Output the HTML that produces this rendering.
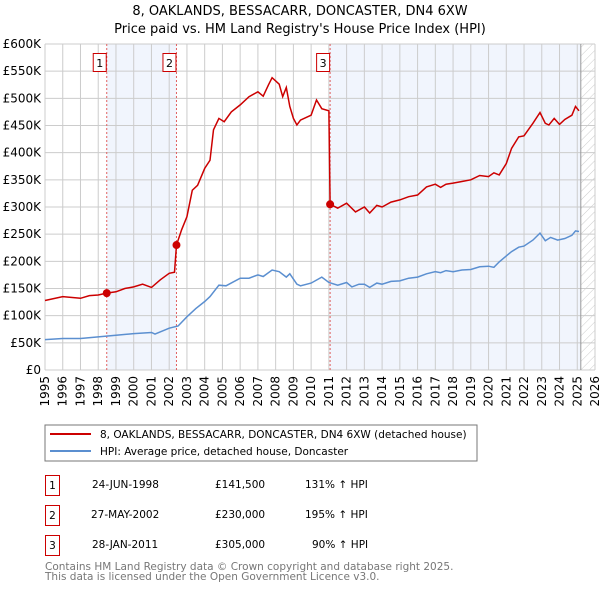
<!DOCTYPE html>
<html><head><meta charset="utf-8"><style>
body{margin:0;background:#fff;font-family:"DejaVu Sans","Liberation Sans",sans-serif;}
svg text{font-family:"DejaVu Sans","Liberation Sans",sans-serif;}
</style></head><body>
<svg id="chart" width="600" height="590" xmlns="http://www.w3.org/2000/svg">
<defs><pattern id="hatch" width="6" height="6" patternUnits="userSpaceOnUse" patternTransform="rotate(45)"><line x1="0" y1="0" x2="0" y2="6" stroke="#ccc" stroke-width="1"/></pattern></defs>
<text x="300" y="15" text-anchor="middle" font-size="13">8, OAKLANDS, BESSACARR, DONCASTER, DN4 6XW</text>
<text x="300" y="33" text-anchor="middle" font-size="13">Price paid vs. HM Land Registry's House Price Index (HPI)</text>
<g id="plot"></g>
<rect x="45" y="425" width="432" height="36" fill="#fff" stroke="#777"/>
<line x1="50" y1="434" x2="91" y2="434" stroke="#cc0000" stroke-width="2"/>
<text x="100" y="438" font-size="10.5">8, OAKLANDS, BESSACARR, DONCASTER, DN4 6XW (detached house)</text>
<line x1="50" y1="451" x2="91" y2="451" stroke="#5b8fd0" stroke-width="2"/>
<text x="100" y="455" font-size="10.5">HPI: Average price, detached house, Doncaster</text>
<g font-size="10.5">
<rect x="45.5" y="475.5" width="14" height="20" fill="#fff" stroke="#cc0000"/><text x="52.5" y="489" text-anchor="middle">1</text>
<text x="92" y="488">24-JUN-1998</text><text x="215" y="488">£141,500</text><text x="305" y="488">131% ↑ HPI</text>
<rect x="45.5" y="505.5" width="14" height="20" fill="#fff" stroke="#cc0000"/><text x="52.5" y="519" text-anchor="middle">2</text>
<text x="91" y="518">27-MAY-2002</text><text x="215" y="518">£230,000</text><text x="305" y="518">195% ↑ HPI</text>
<rect x="45.5" y="535.5" width="14" height="20" fill="#fff" stroke="#cc0000"/><text x="52.5" y="549" text-anchor="middle">3</text>
<text x="92" y="548">28-JAN-2011</text><text x="215" y="548">£305,000</text><text x="312" y="548">90% ↑ HPI</text>
</g>
<text x="45" y="570" font-size="10.5" fill="#777">Contains HM Land Registry data © Crown copyright and database right 2025.</text>
<text x="45" y="580" font-size="10.5" fill="#777">This data is licensed under the Open Government Licence v3.0.</text>
</svg>
<script>
const hpiYears=[1995,1996,1997,1998,1999,2000,2001,2001.2,2002,2002.5,2003,2003.5,2004,2004.3,2004.8,2005.2,2006,2006.5,2007,2007.3,2007.8,2008.2,2008.6,2008.8,2009.2,2009.4,2010,2010.6,2011,2011.5,2012,2012.3,2012.7,2013,2013.3,2013.7,2014,2014.5,2015,2015.5,2016,2016.5,2017,2017.3,2017.6,2018,2018.5,2019,2019.5,2020,2020.3,2020.6,2021,2021.3,2021.7,2022,2022.5,2022.9,2023.2,2023.5,2023.9,2024.3,2024.7,2024.9,2025.1];
const hpiValues=[56,58,58,61,64,67,69,66,77,81,98,113,126,135,156,155,169,169,175,172,184,181,171,177,158,155,160,171,161,156,161,153,158,158,152,160,158,163,164,169,171,177,181,179,183,181,184,185,190,191,189,199,210,218,226,228,239,252,238,244,239,242,248,256,255];
const priceYears=[1995,1996,1997,1997.5,1998,1998.48,1999,1999.5,2000,2000.5,2001,2001.5,2002,2002.3,2002.41,2002.7,2003,2003.3,2003.6,2004,2004.3,2004.5,2004.8,2005.1,2005.5,2006,2006.5,2007,2007.3,2007.6,2007.8,2008.2,2008.4,2008.6,2008.8,2009,2009.2,2009.4,2010,2010.3,2010.6,2011,2011.07,2011.5,2012,2012.5,2013,2013.3,2013.7,2014,2014.5,2015,2015.5,2016,2016.5,2017,2017.3,2017.6,2018,2018.5,2019,2019.5,2020,2020.3,2020.6,2021,2021.3,2021.7,2022,2022.5,2022.9,2023.2,2023.4,2023.7,2024,2024.3,2024.7,2024.9,2025.1];
const priceValues=[128,135,132,137,138,141.5,144,150,153,158,152,166,178,180,230,258,282,331,340,371,386,442,463,457,475,488,503,512,504,525,538,526,503,520,485,463,451,460,469,497,481,477,305,298,307,291,300,289,303,300,309,313,319,322,337,342,336,342,344,347,350,358,356,363,359,380,408,429,431,454,474,454,451,463,452,461,469,485,477];
const saleYears=[1998.48,2002.41,2011.07];
const saleValues=[141.5,230,305];
const saleLabels=["1","2","3"];
const yTicks=[0,50,100,150,200,250,300,350,400,450,500,550,600];
const yTickLabels=["£0","£50K","£100K","£150K","£200K","£250K","£300K","£350K","£400K","£450K","£500K","£550K","£600K"];
const xTicks=[1995,1996,1997,1998,1999,2000,2001,2002,2003,2004,2005,2006,2007,2008,2009,2010,2011,2012,2013,2014,2015,2016,2017,2018,2019,2020,2021,2022,2023,2024,2025,2026];
const X0=45,X1=595,Y0=370,Y1=44;
const xs=v=>X0+(v-1995)/(2026-1995)*(X1-X0);
const ys=v=>Y0-v/600*(Y0-Y1);
const NS="http://www.w3.org/2000/svg";
const g=document.getElementById('plot');
function mk(t,a,p){const e=document.createElementNS(NS,t);for(const k in a)e.setAttribute(k,a[k]);(p||g).appendChild(e);return e;}
let r=mk('rect',{x:xs(saleYears[0]),y:Y1,width:xs(saleYears[1])-xs(saleYears[0]),height:Y0-Y1,fill:'#eef3fc',opacity:0.8});


r=mk('rect',{x:xs(saleYears[2]),y:Y1,width:xs(2025.2)-xs(saleYears[2]),height:Y0-Y1,fill:'#eef3fc',opacity:0.8});


r=mk('rect',{x:xs(2025.2),y:Y1,width:X1-xs(2025.2),height:Y0-Y1,fill:'url(#hatch)'});


xTicks.forEach(t=>{const l=mk('line',{x1:xs(t),x2:xs(t),y1:Y1,y2:Y0,stroke:'#ccc','stroke-width':1});


const tx=mk('text',{x:0,y:0,'font-size':12,'text-anchor':'end',transform:`translate(${xs(t)+4},${Y0+6}) rotate(-90)`});tx.textContent=t;

});
yTicks.forEach((t,i)=>{const l=mk('line',{x1:X0,x2:X1,y1:ys(t),y2:ys(t),stroke:'#ccc','stroke-width':1});


const tx=mk('text',{x:X0-4,y:ys(t)+4,'font-size':12,'text-anchor':'end'});tx.textContent=yTickLabels[i];

});
r=mk('line',{x1:xs(2025.2),x2:xs(2025.2),y1:Y1,y2:Y0,stroke:'#999','stroke-width':1});


saleYears.forEach((s,i)=>{const l=mk('line',{x1:xs(s),x2:xs(s),y1:Y1,y2:Y0,stroke:'#e06060','stroke-width':1,'stroke-dasharray':'2,2'});


const b=mk('rect',{x:xs(s)-13.5,y:53.5,width:13,height:18,fill:'#fff',stroke:'#cc0000'});


const tx=mk('text',{x:xs(s)-7,y:67,'font-size':11,'text-anchor':'middle'});tx.textContent=saleLabels[i];

});
function path(xsArr,vs){return xsArr.map((x,i)=>(i?'L':'M')+xs(x).toFixed(1)+','+ys(vs[i]).toFixed(1)).join('');}
let p=mk('path',{d:path(hpiYears,hpiValues),fill:'none',stroke:'#5b8fd0','stroke-width':1.5});


p=mk('path',{d:path(priceYears,priceValues),fill:'none',stroke:'#cc0000','stroke-width':1.5});


saleYears.forEach((s,i)=>{const c=mk('circle',{cx:xs(s),cy:ys(saleValues[i]),r:4,fill:'#cc0000'});

});
</script>
</body></html>
